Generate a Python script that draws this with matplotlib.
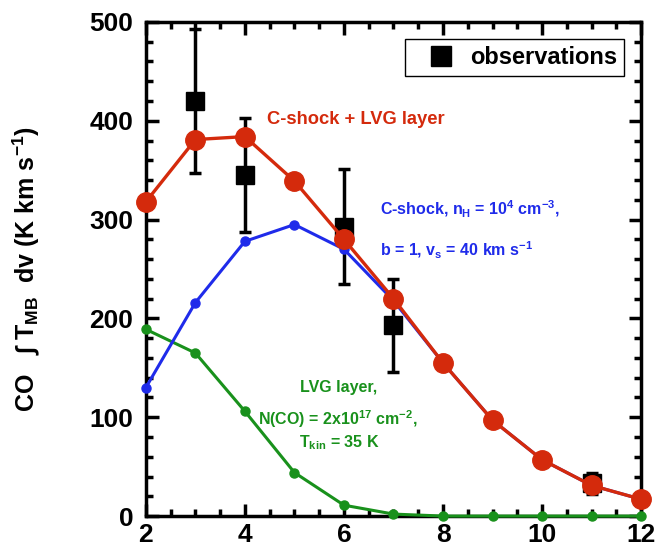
import matplotlib.pyplot as plt
from matplotlib.lines import Line2D
from matplotlib.ticker import MultipleLocator

plt.rcParams['font.family'] = ['Liberation Sans', 'DejaVu Sans']
plt.rcParams['font.weight'] = 'bold'
plt.rcParams['mathtext.fontset'] = 'custom'
plt.rcParams['mathtext.rm'] = 'Liberation Sans:bold'
plt.rcParams['mathtext.bf'] = 'Liberation Sans:bold'
plt.rcParams['mathtext.default'] = 'bf'

# upper level J of the CO transition
j_up = [2, 3, 4, 5, 6, 7, 8, 9, 10, 11, 12]
total = [318, 381, 384, 339, 280, 220, 155, 97, 57, 31, 17]
cshock = [130, 216, 278, 295, 270, 218, 155, 97, 57, 31, 17]
lvg = [189, 165, 106, 44, 11, 2, 0, 0, 0, 0, 0]

obs_j = [3, 4, 6, 7, 11]
obs_val = [420, 345, 293, 193, 33]
obs_err = [73, 58, 58, 47, 11]

red = '#d42a0c'
blue = '#1f2bea'
green = '#19911c'

fig = plt.figure(figsize=(6.63, 5.49), dpi=100)
ax = fig.add_axes([0.22, 0.06, 0.747, 0.9])

ax.errorbar(obs_j, obs_val, yerr=obs_err, fmt='s', color='black', ms=13,
            elinewidth=2.5, capsize=4.5, capthick=2.5, zorder=2)
ax.plot(j_up, lvg, '-o', color=green, lw=2.2, ms=6.5, zorder=3, clip_on=False)
ax.plot(j_up, cshock, '-o', color=blue, lw=2.2, ms=6.5, zorder=4, clip_on=False)
ax.plot(j_up, total, '-o', color=red, lw=2.4, ms=14, zorder=5, clip_on=False)

ax.text(6.24, 401, 'C-shock + LVG layer', color=red, fontsize=13.2,
        ha='center', va='center')
ax.text(6.73, 310, r'C-shock, n$_{\rm H}$ = 10$^4$ cm$^{-3}$,', color=blue,
        fontsize=11.5, ha='left', va='center')
ax.text(6.73, 269, r'b = 1, v$_{\rm s}$ = 40 km s$^{-1}$', color=blue,
        fontsize=11.5, ha='left', va='center')
ax.text(5.9, 130, 'LVG layer,', color=green, fontsize=11.5, ha='center', va='center')
ax.text(5.88, 98, r'N(CO) = 2x10$^{17}$ cm$^{-2}$,', color=green,
        fontsize=11.5, ha='center', va='center')
ax.text(5.9, 74, r'T$_{\rm kin}$ = 35 K', color=green, fontsize=11.5,
        ha='center', va='center')

ax.set_xlim(2, 12)
ax.set_ylim(0, 500)
ax.xaxis.set_major_locator(MultipleLocator(2))
ax.xaxis.set_minor_locator(MultipleLocator(0.5))
ax.yaxis.set_major_locator(MultipleLocator(100))
ax.yaxis.set_minor_locator(MultipleLocator(20))
ax.tick_params(which='both', direction='in', top=True, right=True, width=2.5)
ax.tick_params(which='major', length=9, labelsize=19)
ax.tick_params(axis='x', which='major', pad=5)
ax.tick_params(axis='y', which='major', pad=9)
ax.tick_params(which='minor', length=5)
for s in ax.spines.values():
    s.set_linewidth(2.5)
for lab in ax.get_xticklabels() + ax.get_yticklabels():
    lab.set_fontweight('bold')

ax.set_ylabel(r'CO   $\int$ T$_{\rm MB}$  dv (K km s$^{-1}$)', fontsize=18,
              fontweight='bold')
ax.yaxis.set_label_coords(-0.21, 0.5)

obs_handle = Line2D([], [], marker='s', color='black', ls='none', ms=14)
leg = ax.legend([obs_handle], ['observations'], loc='upper right',
                bbox_to_anchor=(0.966, 0.966), borderaxespad=0, fontsize=17,
                handlelength=2.4, handletextpad=0.05, borderpad=0.3,
                fancybox=False, edgecolor='black', framealpha=1)
leg.get_frame().set_linewidth(1.0)
for t in leg.get_texts():
    t.set_fontweight('bold')

fig.savefig('out.png', dpi=100)
